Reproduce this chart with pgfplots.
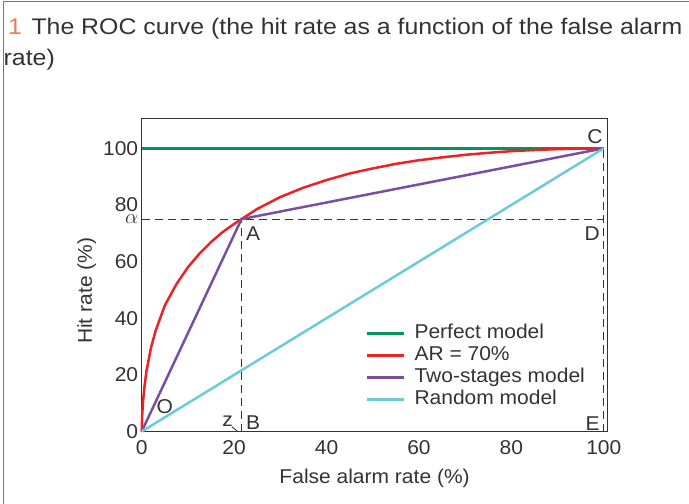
\documentclass[border=0pt]{standalone}
\usepackage{pgfplots}
\pgfplotsset{compat=1.18}
\usepackage{fontspec}
\setmainfont{Liberation Sans}[FakeStretch=1.05]
\newfontfamily\titlefont{Liberation Sans}[FakeStretch=1.1]
\definecolor{pgreen}{HTML}{00955A}
\definecolor{pred}{HTML}{EC2227}
\definecolor{ppurple}{HTML}{7A4FA3}
\definecolor{pcyan}{HTML}{6CCBD8}
\definecolor{porange}{HTML}{EC7A55}
\definecolor{axgray}{HTML}{333333}
\definecolor{framegray}{HTML}{777777}
\begin{document}
\begin{tikzpicture}
\path[use as bounding box] (0pt,0pt) rectangle (689pt,504pt);
\draw[framegray, line width=1.3pt] (3.3pt,0pt) -- (3.3pt,502.4pt) -- (689pt,502.4pt);
\node[anchor=base west, font=\titlefont\fontsize{22.6}{27}\selectfont, inner sep=0pt, text=axgray] at (8pt,469pt) {\textcolor{porange}{1}\hspace{0.42em}The ROC curve (the hit rate as a function of the false alarm};
\node[anchor=base west, font=\titlefont\fontsize{22.6}{27}\selectfont, inner sep=0pt, text=axgray] at (3.5pt,438pt) {rate)};
\begin{axis}[
  at={(141.7pt,72.5pt)}, anchor=south west, scale only axis,
  width=465.8pt, height=313.2pt,
  xmin=0, xmax=100.8, ymin=0, ymax=110.6,
  axis line style={axgray, line width=1.3pt},
  tick style={draw=none},
  xtick={0,20,40,60,80,100},
  xticklabels={0,20,40,60,80,100},
  ytick={0,20,40,60,75,80,100},
  yticklabels={0,20,40,60,{\fontsize{21}{21}\selectfont$\alpha$},80,100},
  tick label style={font=\fontsize{20}{22}\selectfont, text=axgray},
  xticklabel style={yshift=-6pt},
  xlabel={False alarm rate (\%)},
  ylabel={Hit rate (\%)},
  label style={font=\fontsize{20}{22}\selectfont, text=axgray},
  xlabel style={at={(axis description cs:0.5,-0.151)}, anchor=center},
  ylabel style={at={(axis description cs:-0.118,0.449)}, anchor=center},
  legend image code/.code={\draw[#1] (0pt,0pt) -- (37pt,0pt); \path (46pt,0pt);},
  legend cell align=left,
  legend style={at={(axis cs:48.5,38.0)}, anchor=north west, draw=none, fill=none,
    inner sep=0pt, font=\fontsize{20}{22}\selectfont, text=axgray,
    nodes={inner sep=0pt, text height=14.5pt, text depth=4.5pt}, row sep=3pt, column sep=0pt},
  clip=false,
]
% dashed guide lines
\addplot[forget plot, axgray, line width=1.2pt, dash pattern=on 8pt off 5pt] coordinates {(0,75) (100,75)};
\addplot[forget plot, axgray, line width=1.2pt, dash pattern=on 8pt off 5pt] coordinates {(21.6,0) (21.6,75)};
\addplot[forget plot, axgray, line width=1.2pt, dash pattern=on 8pt off 5pt] coordinates {(100,0) (100,100)};
% series
\addplot[pgreen, line width=2.5pt] coordinates {(0,100) (100,100)};
\addlegendentry{Perfect model}
\addplot[pred, line width=2.5pt, line join=round] coordinates {
(0,0) (0.1,5.5) (0.3,10.8) (0.6,15.8) (1,21) (2,29.5) (3,35.5) (5,44.5) (7.5,52) (10,58) (12.5,62.8) (15,66.9) (17.5,70.4) (20,73.3) (21.6,75)
(25,78.6) (30,82.8) (35,86.1) (40,88.8) (45,91.1) (50,92.9) (55,94.5) (60,95.8) (65,96.8) (70,97.7) (75,98.4) (80,99.0) (85,99.4) (90,99.7) (95,99.9) (100,100)};
\addlegendentry{AR = 70\%}
\addplot[ppurple, line width=2.5pt] coordinates {(0,0) (21.6,75) (100,100)};
\addlegendentry{Two-stages model}
\addplot[pcyan, line width=2.5pt] coordinates {(0,0) (100,100)};
\addlegendentry{Random model}
% point labels
\draw[axgray, line width=0.8pt] (axis cs:19.5,1.7) -- (axis cs:20.7,0.1);
\node[font=\fontsize{20}{22}\selectfont, text=axgray] at (axis cs:98.1,104.1) {C};
\node[font=\fontsize{20}{22}\selectfont, text=axgray] at (axis cs:97.5,70.0) {D};
\node[font=\fontsize{20}{22}\selectfont, text=axgray] at (axis cs:97.6,2.9) {E};
\node[font=\fontsize{20}{22}\selectfont, text=axgray] at (axis cs:24.1,70.0) {A};
\node[font=\fontsize{20}{22}\selectfont, text=axgray] at (axis cs:24.1,3.1) {B};
\node[font=\fontsize{20}{22}\selectfont, text=axgray] at (axis cs:5.0,8.8) {O};
\node[font=\fontsize{20}{22}\selectfont, text=axgray] at (axis cs:18.6,3.6) {z};
\end{axis}
\end{tikzpicture}
\end{document}
